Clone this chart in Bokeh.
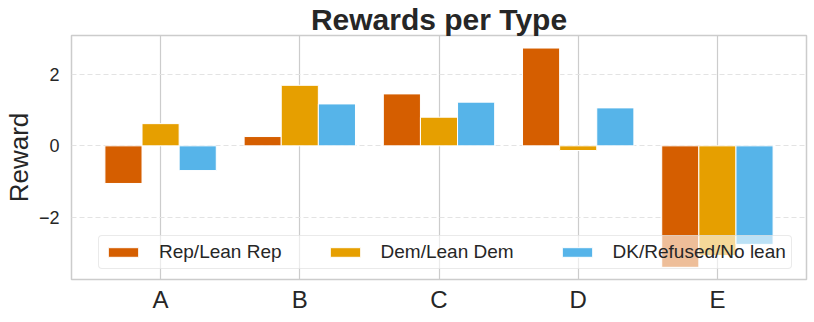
from bokeh.plotting import figure
from bokeh.models import ColumnDataSource, FactorRange, Range1d, FixedTicker, Legend, LegendItem
from bokeh.transform import dodge
from bokeh.embed import file_html
from bokeh.resources import INLINE

types = ["A", "B", "C", "D", "E"]
rep = [-1.05, 0.26, 1.45, 2.73, -3.39]
dem = [0.62, 1.69, 0.80, -0.13, -3.06]
dk = [-0.69, 1.17, 1.22, 1.06, -2.75]
series_names = ["Rep/Lean Rep", "Dem/Lean Dem", "DK/Refused/No lean"]
colors = ["#D55E00", "#E69F00", "#56B4E9"]
y_ticks = [-2, 0, 2]

FONT = "Liberation Sans"
TXT = "#262626"

source = ColumnDataSource(dict(type=types, rep=rep, dem=dem, dk=dk))

p = figure(
    width=814, height=322,
    x_range=FactorRange(factors=types, range_padding=0.14, range_padding_units="absolute"),
    y_range=Range1d(-3.73, 3.08),
    output_backend="svg", toolbar_location=None,
    min_border_left=70, min_border_right=8, min_border_bottom=43, min_border_top=0,
)

bw = 0.8 / 3
renderers = []
for off, col, name in zip([-bw, 0, bw], ["rep", "dem", "dk"], colors):
    r = p.vbar(x=dodge("type", off, range=p.x_range), top=col, width=bw, source=source,
               fill_color=name, line_color="white", line_width=1)
    renderers.append(r)

legend = Legend(
    items=[LegendItem(label=n, renderers=[r]) for n, r in zip(series_names, renderers)],
    orientation="horizontal", location=(27, 10),
    glyph_width=38, glyph_height=12, label_standoff=17, spacing=44,
    padding=5, margin=0,
    label_text_font=FONT, label_text_font_size="19px", label_text_color=TXT,
    border_line_color="#d6d6d6", border_line_width=1, border_radius=4,
    background_fill_color="white", background_fill_alpha=0.6,
)
p.add_layout(legend, "center")

p.title.text = "Rewards per Type"
p.title.text_font = FONT
p.title.text_font_size = "30px"
p.title.text_font_style = "bold"
p.title.text_color = TXT
p.title.align = "center"
p.title.offset = 0
p.title.standoff = 0

p.outline_line_color = "#cccccc"
p.outline_line_width = 1.5

p.xgrid.grid_line_color = "#cccccc"
p.xgrid.grid_line_width = 1.2
p.ygrid.grid_line_color = "#e3e3e3"
p.ygrid.grid_line_width = 1.2
p.ygrid.grid_line_dash = "5 3"

p.yaxis.ticker = FixedTicker(ticks=y_ticks)
p.yaxis.major_label_overrides = {t: str(t).replace("-", "\u2212") for t in y_ticks}
p.yaxis.axis_label = "Reward"
p.yaxis.axis_label_text_font = FONT
p.yaxis.axis_label_text_font_size = "26px"
p.yaxis.axis_label_text_font_style = "normal"
p.yaxis.axis_label_text_color = TXT
p.yaxis.axis_label_standoff = 2

for ax in (p.xaxis, p.yaxis):
    ax.axis_line_color = None
    ax.major_tick_line_color = None
    ax.minor_tick_line_color = None
    ax.major_tick_out = 0
    ax.major_tick_in = 0
    ax.major_label_text_font = FONT
    ax.major_label_text_color = TXT

p.yaxis.major_label_text_font_size = "18px"
p.yaxis.major_label_standoff = 12
p.xaxis.major_label_text_font_size = "24px"
p.xaxis.major_label_standoff = 6

open("out.html", "w").write(file_html(p, INLINE))
